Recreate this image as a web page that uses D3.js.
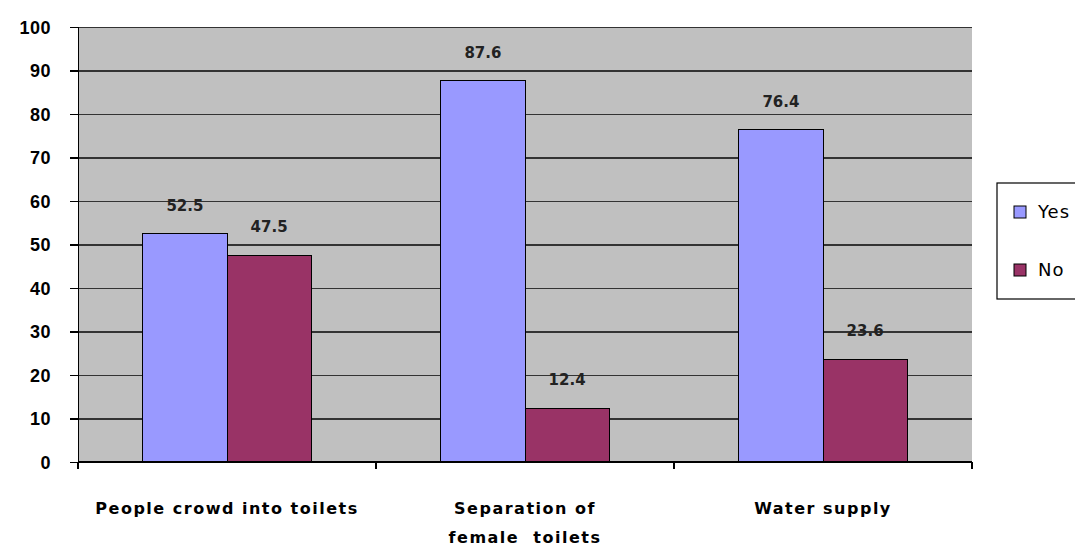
<!DOCTYPE html>
<head>
	<meta charset="utf-8">
	<style>
		body { margin: 0; background: #fff; }
		svg { font-family: "DejaVu Sans", sans-serif; }
		.axis text { font-size: 18px; font-weight: bold; fill: #000; letter-spacing: 0.5px; }
		.axis line, .axis path { stroke: #000; stroke-width: 1.5px; shape-rendering: crispEdges; }
		.grid line { stroke: #333; stroke-width: 1.2px; shape-rendering: crispEdges; }
		.grid path { display: none; }
		.bar { stroke: #000; stroke-width: 1px; shape-rendering: crispEdges; }
		.value { font-size: 15px; font-weight: bold; fill: #222; text-anchor: middle; }
		.cat { font-size: 16px; font-weight: bold; fill: #000; text-anchor: middle; letter-spacing: 1.5px; }
	</style>
	<script src="https://d3js.org/d3.v7.min.js"></script>
</head>
<body>
	<div id="chart"></div>
	<script>
		var categories = ["People crowd into toilets", "Separation of|female  toilets", "Water supply"];
		var series = ["Yes", "No"];
		var yesValues = [52.5, 87.6, 76.4];
		var noValues = [47.5, 12.4, 23.6];
		var yTicks = [0, 10, 20, 30, 40, 50, 60, 70, 80, 90, 100];
		var colors = ["#9999ff", "#993366"];

		var W = 1075, H = 548,
			margin = { top: 27, right: 103, bottom: 86, left: 78 },
			width = W - margin.left - margin.right,
			height = H - margin.top - margin.bottom;

		var svg = d3.select("#chart").append("svg")
			.attr("width", W)
			.attr("height", H);

		var g = svg.append("g")
			.attr("transform", "translate(" + margin.left + "," + margin.top + ")");

		var x0 = d3.scaleBand().domain(d3.range(categories.length)).range([0, width]).paddingInner(0).paddingOuter(0);
		var x1 = d3.scaleBand().domain(series).range([0, x0.bandwidth()]).paddingInner(0).paddingOuter(0.77);
		var y = d3.scaleLinear().domain([0, 100]).range([height, 0]);

		// plot background
		g.append("rect")
			.attr("width", width)
			.attr("height", height)
			.attr("fill", "#c0c0c0");

		// gridlines
		g.append("g")
			.attr("class", "grid")
			.call(d3.axisLeft(y).tickValues(yTicks.slice(1)).tickSize(-width).tickFormat(""));

		var data = categories.map(function (c, i) {
			return { i: i, values: [yesValues[i], noValues[i]] };
		});

		var group = g.selectAll(".cat-group")
			.data(data)
			.enter().append("g")
			.attr("transform", function (d) { return "translate(" + x0(d.i) + ",0)"; });

		group.selectAll("rect")
			.data(function (d) { return d.values.map(function (v, k) { return { key: series[k], v: v, k: k }; }); })
			.enter().append("rect")
			.attr("class", "bar")
			.attr("x", function (d) { return x1(d.key); })
			.attr("y", function (d) { return y(d.v); })
			.attr("width", x1.bandwidth())
			.attr("height", function (d) { return y(0) - y(d.v); })
			.attr("fill", function (d) { return colors[d.k]; });

		group.selectAll(".value")
			.data(function (d) { return d.values.map(function (v, k) { return { key: series[k], v: v }; }); })
			.enter().append("text")
			.attr("class", "value")
			.attr("x", function (d) { return x1(d.key) + x1.bandwidth() / 2; })
			.attr("y", function (d) { return y(d.v) - 23; })
			.text(function (d) { return d.v.toFixed(1); });

		// y axis
		g.append("g")
			.attr("class", "axis")
			.call(d3.axisLeft(y).tickValues(yTicks).tickSize(8).tickPadding(19).tickFormat(d3.format("d")))
			.call(function (s) { s.selectAll("text").attr("dy", "0.35em"); });

		// x axis
		var xAxis = g.append("g")
			.attr("class", "axis")
			.attr("transform", "translate(0," + height + ")");
		xAxis.append("line").attr("x1", 0).attr("x2", width).attr("y1", 0).attr("y2", 0);
		xAxis.selectAll(".xtick")
			.data(d3.range(categories.length + 1))
			.enter().append("line")
			.attr("x1", function (d) { return d * x0.bandwidth(); })
			.attr("x2", function (d) { return d * x0.bandwidth(); })
			.attr("y1", 0).attr("y2", 7);

		var catText = g.selectAll(".cat")
			.data(categories)
			.enter().append("text")
			.attr("class", "cat")
			.attr("transform", function (d, i) { return "translate(" + (x0(i) + x0.bandwidth() / 2) + "," + (height + 52) + ")"; });
		catText.selectAll("tspan")
			.data(function (d) { return d.split("|"); })
			.enter().append("tspan")
			.attr("x", 0)
			.attr("dy", function (d, i) { return i ? 29 : 0; })
			.style("white-space", "pre")
			.text(function (d) { return d; });

		// legend
		var legend = svg.append("g").attr("transform", "translate(997,183)");
		legend.append("rect")
			.attr("width", 90).attr("height", 116)
			.attr("fill", "#fff").attr("stroke", "#000").attr("stroke-width", 1.2);
		var item = legend.selectAll(".item")
			.data(series)
			.enter().append("g")
			.attr("transform", function (d, i) { return "translate(17," + (29 + i * 58) + ")"; });
		item.append("rect")
			.attr("x", 0).attr("y", -6)
			.attr("width", 12).attr("height", 12)
			.attr("fill", function (d, i) { return colors[i]; })
			.attr("stroke", "#000");
		item.append("text")
			.attr("x", 24).attr("dy", "0.35em")
			.style("font-size", "18px")
			.style("letter-spacing", "1px")
			.text(function (d) { return d; });
	</script>
</body>
